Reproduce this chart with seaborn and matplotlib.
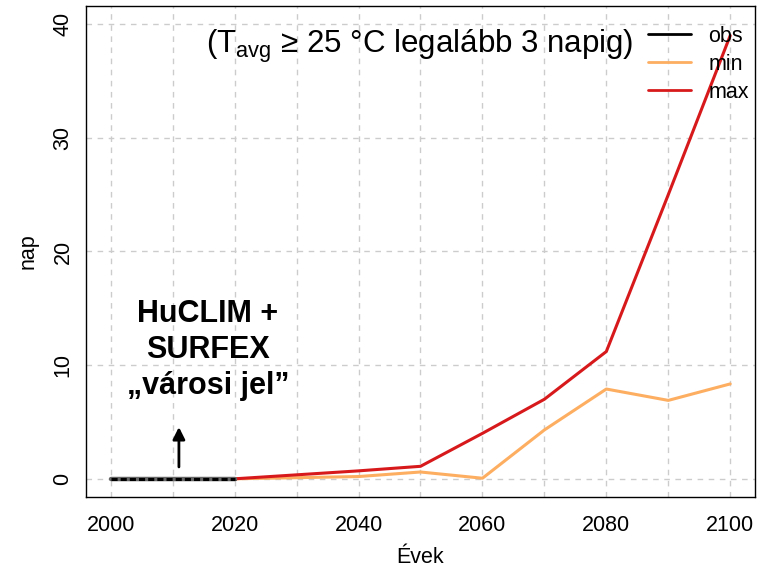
import matplotlib
matplotlib.use("Agg")
import matplotlib.pyplot as plt
import seaborn as sns
import pandas as pd
import numpy as np

years_obs = [2000, 2010, 2020]
obs = [0, 0, 0]
years = [2020, 2030, 2040, 2050, 2060, 2070, 2080, 2090, 2100]
min_vals = [0, 0.1, 0.2, 0.6, 0.05, 4.3, 7.9, 6.9, 8.35]
max_vals = [0, 0.35, 0.7, 1.1, 4.0, 7.0, 11.2, 25.0, 39.0]
xticks = [2000, 2020, 2040, 2060, 2080, 2100]
yticks = [0, 10, 20, 30, 40]

sns.set_style("white")
plt.rcParams['font.family'] = ['Liberation Sans', 'DejaVu Sans']
plt.rcParams['text.color'] = 'black'
plt.rcParams['axes.labelcolor'] = 'black'
plt.rcParams['xtick.color'] = 'black'
plt.rcParams['ytick.color'] = 'black'

fig = plt.figure(figsize=(7.62, 5.72), dpi=100)
ax = fig.add_axes([86/762, 1-497/572, (755-86)/762, (497-6)/572])

# grid
for xv in range(2000, 2101, 10):
    ax.axvline(xv, color='#cccccc', lw=1, ls=(0, (4, 4)), zorder=0)
for yv in yticks:
    ax.axhline(yv, color='#cccccc', lw=1, ls=(0, (4, 4)), zorder=0)

df_obs = pd.DataFrame({'year': years_obs, 'val': obs})
df_min = pd.DataFrame({'year': years, 'val': min_vals})
df_max = pd.DataFrame({'year': years, 'val': max_vals})

sns.lineplot(data=df_obs, x='year', y='val', color='black', lw=2.2, ax=ax, label='obs', zorder=3)
ax.plot(years_obs, obs, color='#666666', lw=3.2, zorder=3.5)
ax.plot(years_obs, obs, color='black', lw=2.2, ls=(0, (2, 1)), zorder=4)
sns.lineplot(data=df_min, x='year', y='val', color='#FDAE61', lw=2.2, ax=ax, label='min', zorder=2)
sns.lineplot(data=df_max, x='year', y='val', color='#D7191C', lw=2.2, ax=ax, label='max', zorder=2)

ax.set_xlim(1996, 2104)
ax.set_ylim(-1.6, 41.6)
ax.set_xticks(list(range(2000, 2101, 10)))
ax.set_xticklabels([str(x) if x in xticks else '' for x in range(2000, 2101, 10)], fontsize=15.5)
ax.set_yticks(yticks)
ax.set_yticklabels([str(y) for y in yticks], fontsize=15.5, rotation=90, va='center')
ax.tick_params(axis='both', direction='out', length=8, width=1, color='#444444', pad=5)
ax.tick_params(axis='y', pad=1)
ax.set_xlabel('Évek', fontsize=15.5, labelpad=8)
ax.set_ylabel('nap', fontsize=15.5, labelpad=10)
for s in ax.spines.values():
    s.set_color('black')
    s.set_linewidth(1)

fig.text(420/762, 1-46/572, r'(T$_{\mathregular{avg}}$ ≥ 25 °C legalább 3 napig)', fontsize=22.5,
         ha='center', va='center')

fig.text(208/762, 1-350/572, 'HuCLIM +\nSURFEX\n„városi jel”', fontsize=22, fontweight='bold',
         ha='center', va='center', linespacing=1.25)
ax.annotate('', xy=(2011, 4.8), xytext=(2011, 0.8),
            arrowprops=dict(arrowstyle='-|>', color='black', lw=2, mutation_scale=18))

leg = ax.legend(loc='upper right', frameon=False, fontsize=15.5, handlelength=2.0,
                bbox_to_anchor=(1.026, 1.008), labelspacing=0.32, borderaxespad=0.7,
                handletextpad=0.8)
for line in leg.get_lines():
    line.set_linewidth(2)

fig.savefig('out.png', dpi=100)
